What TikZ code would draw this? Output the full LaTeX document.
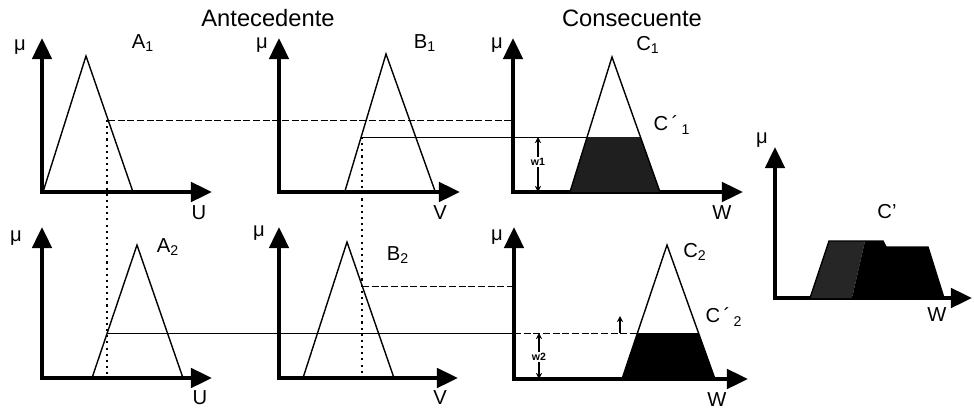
\documentclass[tikz,border=0pt]{standalone}
\usepackage{fontspec}
\setmainfont{Liberation Sans}
\usetikzlibrary{arrows.meta}
\tikzset{
  eje/.style={line width=2.2pt,line join=miter,
    {Triangle[length=12pt,width=11pt]}-{Triangle[length=12pt,width=11pt]}},
  borde/.style={line width=0.8pt},
  guia/.style={line width=0.5pt,dash pattern=on 4pt off 1.5pt},
  corte/.style={line width=0.5pt},
  punteo/.style={line width=1.1pt,dash pattern=on 1.2pt off 2.3pt},
  cota/.style={line width=0.7pt,{Stealth[length=3.5pt,width=3.5pt]}-{Stealth[length=3.5pt,width=3.5pt]}},
  etq/.style={font=\fontsize{11.5}{13}\selectfont,inner sep=0pt},
  chico/.style={font=\fontsize{6}{7}\selectfont\bfseries,fill=white,inner sep=0.6pt},
  titulo/.style={font=\fontsize{13.5}{15}\selectfont,inner sep=0pt},
}
\begin{document}
\begin{tikzpicture}[x=0.02cm,y=-0.02cm]
  \useasboundingbox (0,0) rectangle (974,409);
  % titulos
  \node[titulo] (ant) at (268,18) {Antecedente};
  \node[titulo] (con) at (632,18) {Consecuente};
  % ejes de los siete graficos
  \foreach \ox/\oy/\ty/\tx in {42/192/38/212, 279/192/38/460, 513/192/38/743,
      42/378/227/212, 279/378/227/458, 514/379/227/748, 775/298/147/972}
    \draw[eje] (\ox,\ty) -- (\ox,\oy) -- (\tx,\oy);
  % consecuentes recortados
  \fill[black!88] (570,192) -- (587,137) -- (640.5,137) -- (660,192) -- cycle;
  \fill[black] (622,379) -- (637.4,333) -- (698.5,333) -- (715,379) -- cycle;
  % conjuntos triangulares
  \draw[borde] (43,192) -- (86,56) -- (133,192);
  \draw[borde] (345,191) -- (386,54) -- (435,191);
  \draw[borde] (570,192) -- (612,57) -- (660,192);
  \draw[borde] (92,378) -- (137,245) -- (183,378);
  \draw[borde] (303,378) -- (347,242) -- (394,378);
  \draw[borde] (622,379) -- (667,245) -- (715,379);
  % lineas de grado de pertenencia
  \draw[guia] (108,120) -- (513,120);
  \draw[corte] (361,137) -- (587,137);
  \draw[guia] (362,286) -- (514,286);
  \draw[corte] (107,333) -- (514,333);
  \draw[guia] (514,333) -- (637.4,333);
  \draw[punteo] (107,120) -- (107,378);
  \draw[punteo] (362,137) -- (362,378);
  % alturas w1, w2
  \draw[cota] (538,137) -- (538,192);
  \node[chico] (w1) at (538,162) {w1};
  \draw[cota] (539,333) -- (539,379);
  \node[chico] (w2) at (539,357) {w2};
  \draw[line width=0.7pt,-{Stealth[length=3.5pt,width=3.5pt]}] (620,333) -- (620,316);
  % conjunto de salida C'
  \fill[black!85] (810,298) -- (829,241) -- (865,241) -- (852,298) -- cycle;
  \fill[black] (852,298) -- (865,241) -- (883,241) -- (886,247) -- (928,247) -- (944,298) -- cycle;
  \draw[borde] (810,298) -- (829,241) -- (883,241) -- (886,247) -- (928,247) -- (944,298);
  % etiquetas
  \foreach \nom/\px/\py in {muA/20/47, muB/262/45, muC/497/45, muAb/16/238,
      muBb/259/233, muCb/497/237, muS/762/140}
    \node[etq] (\nom) at (\px,\py) {μ};
  \node[etq] (A1) at (143,43) {A\textsubscript{1}};
  \node[etq] (B1) at (425,43) {B\textsubscript{1}};
  \node[etq] (C1) at (648,45) {C\textsubscript{1}};
  \node[etq] (A2) at (168,247) {A\textsubscript{2}};
  \node[etq] (B2) at (398,255) {B\textsubscript{2}};
  \node[etq] (C2) at (695,252) {C\textsubscript{2}};
  \node[etq] (Cp1) at (672,125) {C\,´\,\textsubscript{1}};
  \node[etq] (Cp2) at (724,317) {C\,´\,\textsubscript{2}};
  \node[etq] (Cp) at (887,212) {C’};
  \node[etq] (U1) at (199,213) {U};
  \node[etq] (V1) at (440,213) {V};
  \node[etq] (W1) at (722,213) {W};
  \node[etq] (U2) at (200,398) {U};
  \node[etq] (V2) at (440,398) {V};
  \node[etq] (W2) at (717,400) {W};
  \node[etq] (W3) at (937,315) {W};
\end{tikzpicture}
\end{document}
